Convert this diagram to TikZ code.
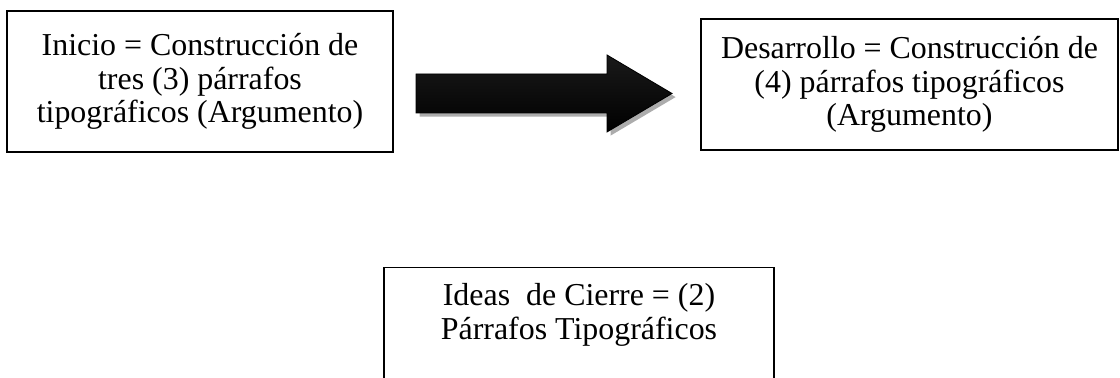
\documentclass[tikz,border=0pt]{standalone}
\usepackage{fontspec}
\setmainfont{Liberation Serif}
\usepackage{tikz}
\usetikzlibrary{shadows}
\newcommand{\boxfont}{\fontsize{22.7}{23.8}\selectfont}

\begin{document}
\begin{tikzpicture}[
	caja/.style={draw, line width=0.9pt, align=center, inner sep=0pt, font=\boxfont},
	flecha/.style={draw=black, line width=0.6pt, top color=black!90, middle color=black!58, bottom color=black}
	]
	\path[use as bounding box, clip] (0,0) rectangle (28,9.45);
	\node[caja, minimum width=9.65cm, minimum height=3.525cm] (v1) at (5.0,7.4125) {Inicio = Construcción de\\tres (3) párrafos\\tipográficos (Argumento)};
	\node[caja, minimum width=10.425cm, minimum height=3.275cm] (v2) at (22.7375,7.3375) {Desarrollo = Construcción de\\(4) párrafos tipográficos\\(Argumento)};
	\node[caja, anchor=north, minimum width=9.75cm, inner ysep=0.4cm, text depth=3cm] (v3) at (14.475,2.775) {Ideas\ \ de Cierre = (2)\\Párrafos Tipográficos};
	% flecha gruesa entre los dos primeros cuadros
	\fill[gray!65, shift={(0.09,-0.09)}] (10.4,7.6) -- (15.175,7.6) -- (15.175,8.075) -- (16.8,7.1125) -- (15.175,6.15) -- (15.175,6.625) -- (10.4,6.625) -- cycle;
	\draw[flecha] (10.4,7.6) -- (15.175,7.6) -- (15.175,8.075) -- (16.8,7.1125) -- (15.175,6.15) -- (15.175,6.625) -- (10.4,6.625) -- cycle;
\end{tikzpicture}
\end{document}
